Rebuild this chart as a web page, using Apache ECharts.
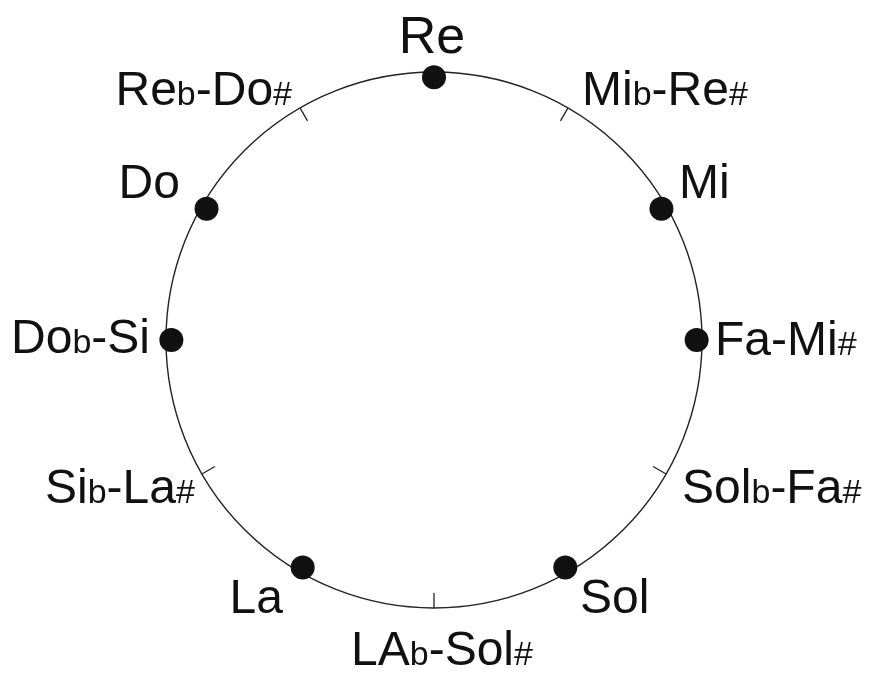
<!DOCTYPE html>
<html>
<head>
<meta charset="utf-8">
<script src="https://cdn.jsdelivr.net/npm/echarts@6/dist/echarts.min.js"></script>
<style>html,body{margin:0;padding:0;background:#fff;}#c{width:869px;height:673px;}</style>
</head>
<body>
<div id="c"></div>
<script>
// 12 chromatic positions, clockwise from the top
const notes = ['Re', 'Mib-Re#', 'Mi', 'Fa-Mi#', 'Solb-Fa#', 'Sol', 'LAb-Sol#', 'La', 'Sib-La#', 'Dob-Si', 'Do', 'Reb-Do#'];
// 1 = note of the scale (dot), 0 = altered note (tick mark)
const inScale = [1, 0, 1, 1, 0, 1, 0, 1, 0, 1, 1, 0];

// label placement style (offset from the circle point, alignment)
const labelStyle = {
  'Re':       {dx: -2,  dy: -33, align: 'center', big: true},
  'Mib-Re#':  {dx: 14,  dy: -16, align: 'left'},
  'Mi':       {dx: 13,  dy: -21, align: 'left'},
  'Fa-Mi#':   {dx: 13,  dy: 2,   align: 'left'},
  'Solb-Fa#': {dx: 16,  dy: 16,  align: 'left'},
  'Sol':      {dx: 12,  dy: 28,  align: 'left'},
  'LAb-Sol#': {dx: 8,   dy: 44,  align: 'center'},
  'La':       {dx: -17, dy: 28,  align: 'right'},
  'Sib-La#':  {dx: -7,  dy: 16,  align: 'right'},
  'Dob-Si':   {dx: -16, dy: 0,   align: 'right'},
  'Do':       {dx: -22, dy: -21, align: 'right'},
  'Reb-Do#':  {dx: -8,  dy: -16, align: 'right'}
};

function richText(s) {
  return s.replace(/b(?=-)/g, '{s|b}').replace(/#/g, '{s|#}')
          .split(/(\{s\|[^}]*\})/).map(p => p.startsWith('{s|') ? p : (p ? '{m|' + p + '}' : '')).join('');
}

const dotData = notes.map((n, i) => inScale[i] ? [0.98, i] : null).filter(d => d);
const tickData = notes.map((n, i) => inScale[i] ? null : [1, i]).filter(d => d);
const labelData = notes.map((n, i) => [1, i]);

const chart = echarts.init(document.getElementById('c'), null, {renderer: 'canvas'});
const FONT = '"Liberation Sans", Arial, Helvetica, sans-serif';

chart.setOption({
  backgroundColor: '#fff',
  animation: false,
  polar: {center: [434, 340], radius: 268},
  angleAxis: {
    type: 'category', data: notes, startAngle: 105, clockwise: true, boundaryGap: true,
    axisLine: {show: true, lineStyle: {color: '#222', width: 1.4}},
    axisTick: {show: false}, axisLabel: {show: false}, splitLine: {show: false}
  },
  radiusAxis: {type: 'value', min: 0, max: 1, show: false},
  series: [
    {
      type: 'custom', coordinateSystem: 'polar', data: tickData, silent: true,
      renderItem: function (params, api) {
        const idx = api.value(1);
        const p1 = api.coord([1, idx]);
        const p2 = api.coord([0.944, idx]);
        return {type: 'line', shape: {x1: p1[0], y1: p1[1], x2: p2[0], y2: p2[1]},
                style: {stroke: '#222', lineWidth: 1.3}};
      }
    },
    {
      type: 'scatter', coordinateSystem: 'polar', data: dotData, symbol: 'circle', symbolSize: 24,
      itemStyle: {color: '#111', opacity: 1}, silent: true
    },
    {
      type: 'custom', coordinateSystem: 'polar', data: labelData, silent: true,
      renderItem: function (params, api) {
        const idx = api.value(1);
        const name = notes[idx];
        const st = labelStyle[name];
        const p = api.coord([1, idx]);
        const mSize = st.big ? 52 : 48;
        return {
          type: 'text', x: p[0] + st.dx, y: p[1] + st.dy,
          style: {
            text: richText(name), align: st.align, verticalAlign: 'middle',
            fill: '#111', fontFamily: FONT,
            rich: {
              m: {fontSize: mSize, fontFamily: FONT, fill: '#111', verticalAlign: 'bottom'},
              s: {fontSize: 34, fontFamily: FONT, fill: '#111', verticalAlign: 'bottom', padding: [0, 0, 3, 0]}
            }
          }
        };
      }
    }
  ]
});
</script>
</body>
</html>
